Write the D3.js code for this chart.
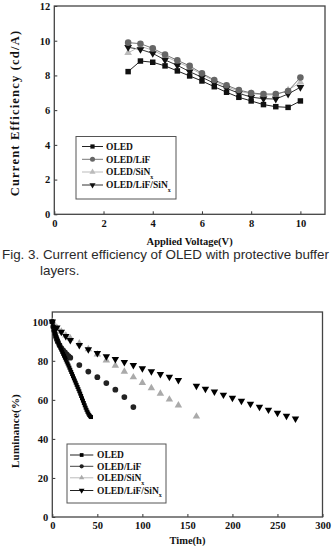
<!DOCTYPE html>
<html>
  <head>
    <meta charset="utf-8">
    <title>OLED efficiency and lifetime</title>
    <script src="https://cdn.jsdelivr.net/npm/d3@7"></script>
    <style>
      body { margin: 0; background: #fff; }
      .serif { font-family: "Liberation Serif", "Times New Roman", serif; font-weight: bold; }
      .caption { font-family: "Liberation Sans", Arial, sans-serif; font-size: 13.4px; fill: #2a2a2a; }
    </style>
  </head>
  <body>
    <svg id="container" width="336" height="546"></svg>
  </body>
  <script>
    // ---- data: Fig. 3, current efficiency vs voltage
    const voltage = [3, 3.5, 4, 4.5, 5, 5.5, 6, 6.5, 7, 7.5, 8, 8.5, 9, 9.5, 10];
    const effOLED = [8.22, 8.83, 8.76, 8.55, 8.26, 7.97, 7.68, 7.35, 7.03, 6.74, 6.53, 6.32, 6.20, 6.16, 6.53];
    const effLiF = [9.89, 9.83, 9.56, 9.20, 8.87, 8.55, 8.12, 7.74, 7.43, 7.16, 6.99, 6.93, 6.93, 7.10, 7.88];
    const effSiNx = [9.30, 9.68, 9.45, 9.10, 8.78, 8.45, 8.05, 7.68, 7.36, 7.08, 6.95, 6.88, 6.88, 7.15, 7.60];
    const effLiFSiNx = [9.62, 9.50, 9.27, 8.89, 8.58, 8.22, 7.89, 7.55, 7.26, 6.97, 6.75, 6.66, 6.64, 6.93, 7.32];
    const voltTicks = [0, 2, 4, 6, 8, 10];
    const effTicks = [0, 2, 4, 6, 8, 10, 12];

    // ---- data: luminance decay vs time
    const timeOLED = [0, 1, 2, 3, 4, 5, 6, 7, 8, 9, 10, 11, 12, 13, 14, 15, 16, 17, 18, 19, 20, 21,
      22, 23, 24, 25, 26, 27, 28, 29, 30, 31, 32, 33, 34, 35, 36, 37, 38, 39, 40, 41, 42, 43];
    const lumOLED = [100, 97.5, 95.5, 94, 92.6, 91.3, 90.1, 89, 87.9, 86.8, 85.7, 84.6, 83.6, 82.6,
      81.6, 80.6, 79.6, 78.6, 77.6, 76.5, 75.4, 74.3, 73.2, 72.1, 71.0, 69.9, 68.8, 67.7, 66.6, 65.5,
      64.4, 63.2, 62.0, 60.8, 59.6, 58.4, 57.2, 56.0, 54.9, 53.9, 53.0, 52.2, 51.6, 51.2];
    const timeLiF = [0, 1, 2, 3, 4, 5, 6, 8, 10, 12, 14, 16, 18, 20, 30, 40, 50, 60, 70, 80, 90];
    const lumLiF = [100, 97.5, 95.5, 93.8, 92.3, 91, 89.8, 88, 86.5, 85.3, 84.3, 83.3, 82.4, 81.6,
      77.8, 74.5, 71.6, 68.6, 65.2, 61.4, 56.3];
    const timeSiNx = [0, 5, 10, 15, 20, 30, 40, 50, 60, 70, 80, 90, 100, 110, 120, 130, 140, 160];
    const lumSiNx = [100, 97, 95, 93, 91.5, 89, 86, 83.3, 80.2, 77.6, 74.5, 71.6, 68.7, 66, 63.2, 60.2, 57.2, 51.5];
    const timeLiFSiNx = [0, 5, 10, 15, 20, 30, 40, 50, 60, 70, 80, 90, 100, 110, 120, 130, 140,
      160, 170, 180, 190, 200, 210, 220, 230, 240, 250, 260, 270];
    const lumLiFSiNx = [100, 97, 94.8, 92.6, 90.6, 88, 85.8, 83.9, 82.2, 80.8, 79.3, 77.8, 76.1, 74.6,
      73.2, 71.7, 70.1, 67.1, 65.6, 64.2, 62.6, 61.0, 59.5, 57.9, 56.4, 54.9, 53.3, 51.8, 50.4];
    const timeTicks = [0, 50, 100, 150, 200, 250, 300];
    const lumTicks = [0, 20, 40, 60, 80, 100];

    const seriesNames = ["OLED", "OLED/LiF", "OLED/SiN", "OLED/LiF/SiN"];

    const svg = d3.select("#container");

    const sym = {
      square: d3.symbol().type(d3.symbolSquare),
      circle: d3.symbol().type(d3.symbolCircle),
      tri: d3.symbol().type(d3.symbolTriangle)
    };

    function marker(g, kind, size, fill) {
      const down = kind === "down";
      const s = down ? sym.tri : sym[kind];
      return g.append("path")
        .attr("d", s.size(size)())
        .attr("transform", down ? "rotate(180)" : null)
        .attr("fill", fill);
    }

    function frame(g, x, y, xTicks, yTicks, xTitle, yTitle, yTitleY) {
      const [x0, x1] = x.range();
      const [y0, y1] = y.range();
      g.append("g")
        .attr("class", "serif")
        .attr("transform", `translate(0,${y0})`)
        .call(d3.axisBottom(x).tickValues(xTicks).tickSizeInner(-3).tickSizeOuter(0).tickPadding(5))
        .call(a => a.select(".domain").remove())
        .call(a => a.selectAll("text").attr("font-size", 10.5).attr("fill", "#111"))
        .call(a => a.selectAll("line").attr("stroke", "#333"));
      g.append("g")
        .attr("class", "serif")
        .attr("transform", `translate(${x0},0)`)
        .call(d3.axisLeft(y).tickValues(yTicks).tickSizeInner(-3).tickSizeOuter(0).tickPadding(4))
        .call(a => a.select(".domain").remove())
        .call(a => a.selectAll("text").attr("font-size", 10.5).attr("fill", "#111"))
        .call(a => a.selectAll("line").attr("stroke", "#333"));
      g.append("rect")
        .attr("x", x0).attr("y", y1)
        .attr("width", x1 - x0).attr("height", y0 - y1)
        .attr("fill", "none").attr("stroke", "#444").attr("stroke-width", 1.3);
      g.append("text")
        .attr("class", "serif")
        .attr("x", (x0 + x1) / 2).attr("y", xTitle.y)
        .attr("text-anchor", "middle").attr("font-size", 10.5).attr("fill", "#111")
        .text(xTitle.text);
      g.append("text")
        .attr("class", "serif")
        .attr("transform", `translate(19,${yTitleY}) rotate(-90)`)
        .attr("text-anchor", "middle").attr("font-size", yTitle.size).attr("fill", "#111")
        .attr("letter-spacing", yTitle.spacing)
        .text(yTitle.text);
    }

    function legend(g, box, rowsY, styles, lineX, textX) {
      g.append("rect")
        .attr("x", box[0]).attr("y", box[1]).attr("width", box[2]).attr("height", box[3])
        .attr("fill", "#fff").attr("stroke", "#555").attr("stroke-width", 1);
      seriesNames.forEach((name, i) => {
        const st = styles[i];
        const yy = rowsY[i];
        g.append("line")
          .attr("x1", lineX[0]).attr("x2", lineX[1]).attr("y1", yy).attr("y2", yy)
          .attr("stroke", st.line).attr("stroke-width", 1);
        const m = g.append("g").attr("transform", `translate(${(lineX[0] + lineX[1]) / 2},${yy})`);
        marker(m, st.kind, st.legendSize, st.fill);
        const t = g.append("text")
          .attr("class", "serif")
          .attr("x", textX).attr("y", yy + 3.3)
          .attr("font-size", 9.5).attr("fill", "#111")
          .text(name);
        if (name.endsWith("SiN")) {
          t.append("tspan").attr("dy", 3.5).attr("font-size", 6).text("x");
        }
      });
    }

    // ================= chart 1 =================
    const c1 = svg.append("g");
    const x1 = d3.scaleLinear().domain([0, 11]).range([54.3, 325]);
    const y1 = d3.scaleLinear().domain([0, 12]).range([214.3, 6]);

    const effSeries = [
      { values: effOLED, kind: "square", size: 30, fill: "#111", line: "#222", legendSize: 18 },
      { values: effLiF, kind: "circle", size: 34, fill: "#666", line: "#777", legendSize: 20 },
      { values: effSiNx, kind: "tri", size: 26, fill: "#bbb", line: "#bbb", legendSize: 16 },
      { values: effLiFSiNx, kind: "down", size: 26, fill: "#111", line: "#333", legendSize: 16 }
    ];

    frame(c1, x1, y1, voltTicks, effTicks,
      { text: "Applied Voltage(V)", y: 245 },
      { text: "Current Efficiency (cd/A)", size: 12.5, spacing: 1.2 }, 113);

    const line1 = d3.line().x((d, i) => x1(voltage[i])).y(d => y1(d));
    effSeries.slice().reverse().forEach(s => {
      c1.append("path")
        .attr("d", line1(s.values))
        .attr("fill", "none").attr("stroke", s.line).attr("stroke-width", 1);
    });
    [effSeries[2], effSeries[0], effSeries[3], effSeries[1]].forEach(s => {
      c1.selectAll(null)
        .data(s.values)
        .enter()
        .append("g")
        .attr("transform", (d, i) => `translate(${x1(voltage[i])},${y1(d)})`)
        .each(function () { marker(d3.select(this), s.kind, s.size, s.fill); });
    });

    legend(c1, [76, 136.5, 100, 62.5], [146.5, 159.3, 172, 185], effSeries, [82, 103], 106);

    // ================= caption =================
    svg.append("text").attr("class", "caption").attr("x", 2).attr("y", 258.5)
      .text("Fig. 3. Current efficiency of OLED with protective buffer");
    svg.append("text").attr("class", "caption").attr("x", 40).attr("y", 275)
      .text("layers.");

    // ================= chart 2 =================
    const c2 = svg.append("g");
    const x2 = d3.scaleLinear().domain([0, 300]).range([52.3, 322.5]);
    const y2 = d3.scaleLinear().domain([0, 105]).range([517, 312]);

    frame(c2, x2, y2, timeTicks, lumTicks,
      { text: "Time(h)", y: 543.5 },
      { text: "Luminance(%)", size: 11, spacing: 0.2 }, 431);

    const lumSeries = [
      { t: timeOLED, v: lumOLED, kind: "square", size: 16, fill: "#000", line: "#222", legendSize: 14 },
      { t: timeLiF, v: lumLiF, kind: "circle", size: 26, fill: "#222", line: "#444", legendSize: 14 },
      { t: timeSiNx, v: lumSiNx, kind: "tri", size: 24, fill: "#aaa", line: "#bbb", legendSize: 12 },
      { t: timeLiFSiNx, v: lumLiFSiNx, kind: "down", size: 24, fill: "#000", line: "#222", legendSize: 14 }
    ];

    [lumSeries[2], lumSeries[1], lumSeries[3], lumSeries[0]].forEach(s => {
      c2.selectAll(null)
        .data(s.v)
        .enter()
        .append("g")
        .attr("transform", (d, i) => `translate(${x2(s.t[i])},${y2(d)})`)
        .each(function () { marker(d3.select(this), s.kind, s.size, s.fill); });
    });

    legend(c2, [67, 444, 99, 59], [455, 466.3, 477.8, 490.5], lumSeries, [70, 93.3], 97);
  </script>
</html>
